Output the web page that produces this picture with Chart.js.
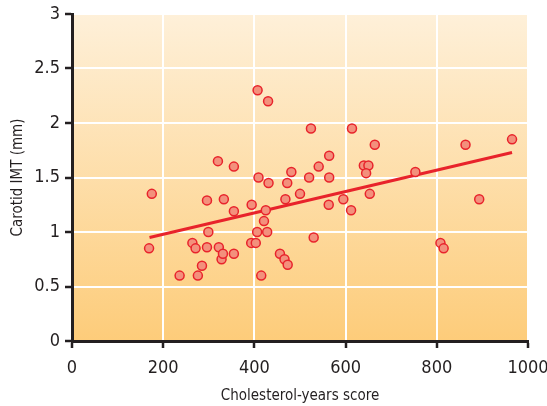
<!DOCTYPE html>
<html>
<head>
<meta charset="utf-8">
<script src="https://cdn.jsdelivr.net/npm/chart.js@4/dist/chart.umd.min.js"></script>
<style>
  html, body { margin: 0; padding: 0; background: #ffffff; }
  #wrap { width: 547px; height: 406px; }
</style>
</head>
<body>
<div id="wrap"><canvas id="chart" width="547" height="406"></canvas></div>
<script>
// Cholesterol-years score (x) against carotid intima-media thickness in mm (y)
const cholesterolYears = [
  169, 175, 236, 264, 271, 276, 285, 296, 296, 299,
  320, 322, 328, 331, 333, 355, 355, 355, 393, 394,
  403, 406, 407, 409, 415, 421, 425, 428, 430, 431,
  456, 466, 468, 472, 473, 481, 500, 520, 524, 530,
  541, 564, 564, 563, 595, 612, 614, 640, 650, 645,
  653, 664, 753, 808, 815, 863, 893, 965
];
const carotidIMT = [
  0.85, 1.35, 0.60, 0.90, 0.85, 0.60, 0.69, 1.29, 0.86, 1.00,
  1.65, 0.86, 0.75, 0.80, 1.30, 1.60, 1.19, 0.80, 0.90, 1.25,
  0.90, 1.00, 2.30, 1.50, 0.60, 1.10, 1.20, 1.00, 2.20, 1.45,
  0.80, 0.75, 1.30, 1.45, 0.70, 1.55, 1.35, 1.50, 1.95, 0.95,
  1.60, 1.70, 1.50, 1.25, 1.30, 1.20, 1.95, 1.61, 1.61, 1.54,
  1.35, 1.80, 1.55, 0.90, 0.85, 1.80, 1.30, 1.85
];

// Fitted trend line end points
const trendX = [170, 965];
const trendY = [0.95, 1.73];

// Axis ticks and their printed labels
const xTicks = [0, 200, 400, 600, 800, 1000];
const xTickLabels = ['0', '200', '400', '600', '800', '1000'];
const yTicks = [0, 0.5, 1, 1.5, 2, 2.5, 3];
const yTickLabels = ['0', '0.5', '1', '1.5', '2', '2.5', '3'];

const xTitle = 'Cholesterol-years score';
const yTitle = 'Carotid IMT (mm)';

const FONT = "'Liberation Sans Narrow', 'Arial Narrow', 'DejaVu Sans Condensed', sans-serif";
const INK = '#231f20';
const RED = '#e8232b';

const scatterPoints = cholesterolYears.map((x, i) => ({ x: x, y: carotidIMT[i] }));
const trendPoints = trendX.map((x, i) => ({ x: x, y: trendY[i] }));

// Warm vertical gradient behind the plot area
const plotBackground = {
  id: 'plotBackground',
  beforeDraw(chart) {
    const { ctx, chartArea: a } = chart;
    const g = ctx.createLinearGradient(0, a.top, 0, a.bottom);
    g.addColorStop(0, '#fef0d9');
    g.addColorStop(1, '#fdcc7a');
    ctx.save();
    ctx.fillStyle = g;
    ctx.fillRect(a.left, a.top, a.right - a.left, a.bottom - a.top);
    ctx.restore();
  }
};

new Chart(document.getElementById('chart'), {
  type: 'scatter',
  data: {
    datasets: [
      {
        type: 'line',
        data: trendPoints,
        borderColor: RED,
        borderWidth: 3,
        pointRadius: 0,
        fill: false,
        order: 1
      },
      {
        type: 'scatter',
        data: scatterPoints,
        backgroundColor: '#f3907c',
        borderColor: RED,
        borderWidth: 1.5,
        pointRadius: 4.5,
        order: 0
      }
    ]
  },
  options: {
    responsive: false,
    animation: false,
    layout: { padding: { top: 14, right: 19, left: 0, bottom: 0 } },
    plugins: {
      legend: { display: false },
      tooltip: { enabled: false }
    },
    scales: {
      x: {
        type: 'linear',
        min: xTicks[0],
        max: xTicks[xTicks.length - 1],
        afterBuildTicks: (scale) => { scale.ticks = xTicks.map(v => ({ value: v })); },
        afterFit: (scale) => {
          scale.height = 65;
          scale.paddingLeft = 0;
          scale.paddingRight = 0;
        },
        grid: {
          color: '#ffffff',
          lineWidth: 2,
          tickColor: INK,
          tickLength: 7,
          tickWidth: 2.5
        },
        border: { color: INK, width: 3 },
        ticks: {
          color: INK,
          padding: 10,
          font: { family: FONT, size: 18 },
          callback: (value) => xTickLabels[xTicks.indexOf(value)]
        },
        title: {
          display: true,
          text: xTitle,
          color: INK,
          padding: { top: 0, bottom: 1 },
          font: { family: FONT, size: 15 }
        }
      },
      y: {
        type: 'linear',
        min: yTicks[0],
        max: yTicks[yTicks.length - 1],
        afterBuildTicks: (scale) => { scale.ticks = yTicks.map(v => ({ value: v })); },
        afterFit: (scale) => {
          scale.width = 72;
          scale.paddingTop = 0;
          scale.paddingBottom = 0;
        },
        grid: {
          color: '#ffffff',
          lineWidth: 2,
          tickColor: INK,
          tickLength: 7,
          tickWidth: 2.5
        },
        border: { color: INK, width: 3 },
        ticks: {
          color: INK,
          padding: 5,
          font: { family: FONT, size: 18 },
          callback: (value) => yTickLabels[yTicks.indexOf(value)]
        },
        title: {
          display: true,
          text: yTitle,
          color: INK,
          padding: { top: 9, bottom: 0 },
          font: { family: FONT, size: 15 }
        }
      }
    }
  },
  plugins: [plotBackground]
});
</script>
</body>
</html>
